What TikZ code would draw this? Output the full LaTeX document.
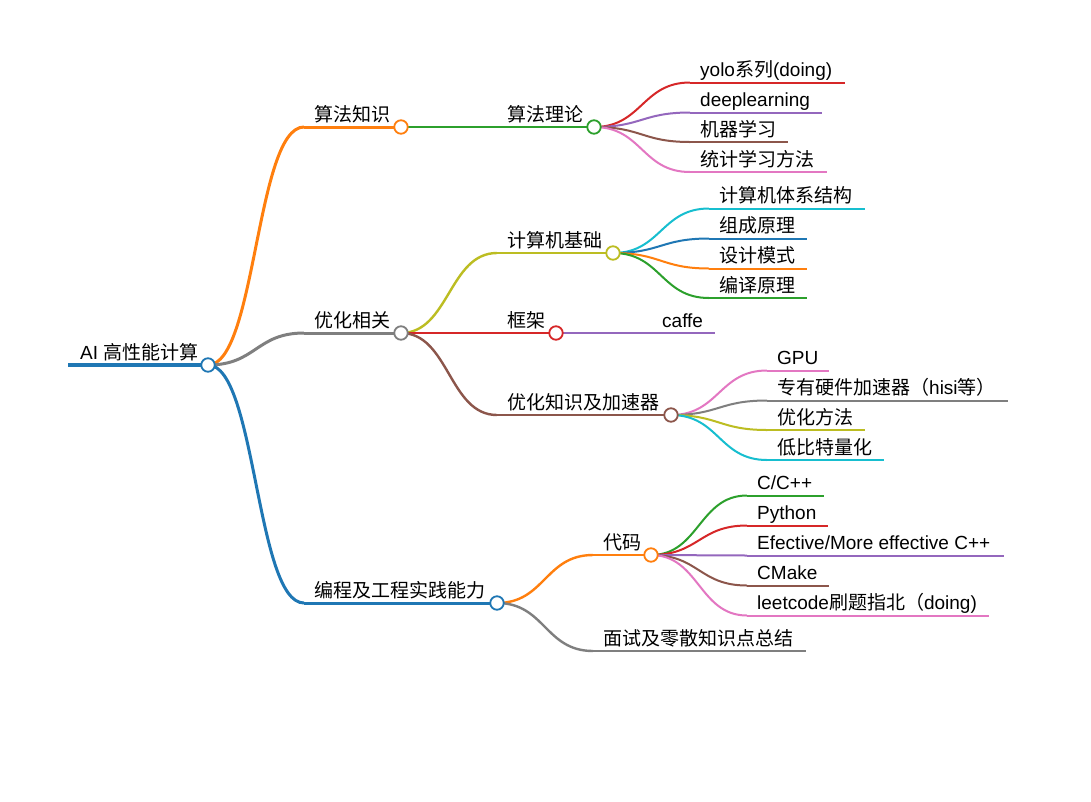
\documentclass[tikz,border=0pt]{standalone}
\usepackage{fontspec}
\setmainfont{Liberation Sans}
\newfontfamily\cjk{Noto Sans CJK SC}
\usetikzlibrary{calc}
\definecolor{mblue}{HTML}{1F77B4}
\definecolor{morange}{HTML}{FF7F0E}
\definecolor{mgreen}{HTML}{2CA02C}
\definecolor{mred}{HTML}{D62728}
\definecolor{mpurple}{HTML}{9467BD}
\definecolor{mbrown}{HTML}{8C564B}
\definecolor{mpink}{HTML}{E377C2}
\definecolor{mgray}{HTML}{7F7F7F}
\definecolor{molive}{HTML}{BCBD22}
\definecolor{mcyan}{HTML}{17BECF}
\tikzset{
  dot/.style={circle, draw=#1, fill=white, line width=1.8pt, minimum size=13.5pt, inner sep=0pt},
  lbl/.style={anchor=base west, inner sep=0pt, font=\fontsize{19}{19}\selectfont},
  wroot/.style={line width=4.5pt},
  wone/.style={line width=3pt},
  wtwo/.style={line width=2.4pt},
  wthree/.style={line width=2pt}
}
\newcommand\mmlink[3]{\draw[#1] let \p1=(#2), \p2=(#3) in (\p1) .. controls ({(\x1+\x2)/2},\y1) and ({(\x1+\x2)/2},\y2) .. (\p2);}
% name, parent, start x, y, circle x, color, width, text
\newcommand\branch[8]{%
  \coordinate (#1s) at (#3,#4);
  \coordinate (#1) at (#5,#4);
  \mmlink{#6,#7}{#2}{#1s}
  \draw[#6,#7] (#1s) -- (#1);
  \node[lbl] (#1t) at ({#3+10},{#4-6}) {#8};
}
% name, parent, start x, y, end x, color, width, text
\newcommand\leaf[8]{%
  \coordinate (#1s) at (#3,#4);
  \coordinate (#1e) at (#5,#4);
  \mmlink{#6,#7}{#2}{#1s}
  \draw[#6,#7] (#1s) -- (#1e);
  \node[lbl] (#1t) at ({#3+10},{#4-6}) {#8};
}
\begin{document}
\begin{tikzpicture}[x=1pt,y=-1pt]
\fill[white] (0,0) rectangle (1091,801);
\useasboundingbox (0,0) rectangle (1091,801);
% root
\coordinate (R0) at (68,365);
\coordinate (R) at (208,365);
\draw[mblue,wroot] (R0) -- (R);
\node[lbl] (Rt) at (80,359) {AI {\cjk 高性能计算}};
% level 1
\branch{A}{R}{304}{127}{401}{morange}{wone}{\cjk 算法知识}
\branch{B}{R}{304}{333}{401}{mgray}{wone}{\cjk 优化相关}
\branch{C}{R}{304}{603}{497}{mblue}{wone}{\cjk 编程及工程实践能力}
% level 2
\branch{Aa}{A}{497}{127}{594}{mgreen}{wtwo}{\cjk 算法理论}
\branch{Ba}{B}{497}{253}{613}{molive}{wtwo}{\cjk 计算机基础}
\branch{Bb}{B}{497}{333}{556}{mred}{wtwo}{\cjk 框架}
\branch{Bc}{B}{497}{415}{671}{mbrown}{wtwo}{\cjk 优化知识及加速器}
\branch{Ca}{C}{593}{555}{651}{morange}{wtwo}{\cjk 代码}
\leaf{Cb}{C}{593}{651}{806}{mgray}{wtwo}{\cjk 面试及零散知识点总结}
% level 3 under 算法理论
\leaf{Aa1}{Aa}{690}{82.5}{845}{mred}{wthree}{yolo{\cjk 系列}(doing)}
\leaf{Aa2}{Aa}{690}{112.5}{822}{mpurple}{wthree}{deeplearning}
\leaf{Aa3}{Aa}{690}{142}{788}{mbrown}{wthree}{\cjk 机器学习}
\leaf{Aa4}{Aa}{690}{172}{827}{mpink}{wthree}{\cjk 统计学习方法}
% under 计算机基础
\leaf{Ba1}{Ba}{709}{208.5}{865}{mcyan}{wthree}{\cjk 计算机体系结构}
\leaf{Ba2}{Ba}{709}{238.5}{807}{mblue}{wthree}{\cjk 组成原理}
\leaf{Ba3}{Ba}{709}{268.5}{807}{morange}{wthree}{\cjk 设计模式}
\leaf{Ba4}{Ba}{709}{298}{807}{mgreen}{wthree}{\cjk 编译原理}
% under 框架
\leaf{Bb1}{Bb}{652}{333}{715}{mpurple}{wthree}{caffe}
% under 优化知识及加速器
\leaf{Bc1}{Bc}{767}{370.5}{829}{mpink}{wthree}{GPU}
\leaf{Bc2}{Bc}{767}{400.5}{1008}{mgray}{wthree}{{\cjk 专有硬件加速器（}hisi{\cjk 等）}}
\leaf{Bc3}{Bc}{767}{430}{865}{molive}{wthree}{\cjk 优化方法}
\leaf{Bc4}{Bc}{767}{460}{884}{mcyan}{wthree}{\cjk 低比特量化}
% under 代码
\leaf{Ca1}{Ca}{747}{495.5}{824}{mgreen}{wthree}{C/C++}
\leaf{Ca2}{Ca}{747}{525.5}{828}{mred}{wthree}{Python}
\leaf{Ca3}{Ca}{747}{555.5}{1004}{mpurple}{wthree}{Efective/More effective C++}
\leaf{Ca4}{Ca}{747}{585.5}{829}{mbrown}{wthree}{CMake}
\leaf{Ca5}{Ca}{747}{615.5}{989}{mpink}{wthree}{leetcode{\cjk 刷题指北（}doing)}
% circles on top
\node[dot=mblue] (Rc) at (R) {};
\node[dot=morange] (Ac) at (A) {};
\node[dot=mgray] (Bc0) at (B) {};
\node[dot=mblue] (Cc) at (C) {};
\node[dot=mgreen] (Aac) at (Aa) {};
\node[dot=molive] (Bac) at (Ba) {};
\node[dot=mred] (Bbc) at (Bb) {};
\node[dot=mbrown] (Bcc) at (Bc) {};
\node[dot=morange] (Cac) at (Ca) {};
\end{tikzpicture}
\end{document}
